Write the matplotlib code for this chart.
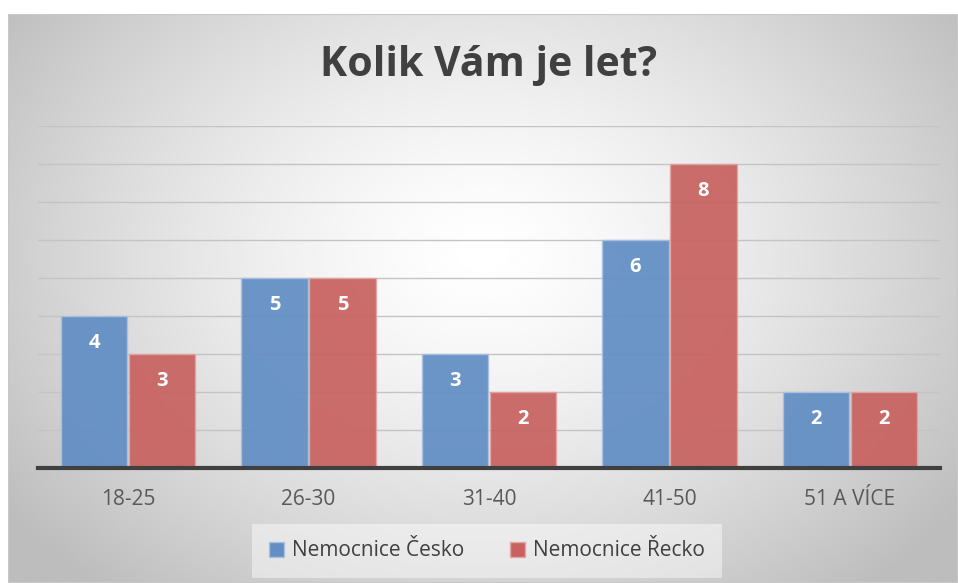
import numpy as np
import matplotlib
matplotlib.use("Agg")
import matplotlib.pyplot as plt
from matplotlib.patches import Patch, Rectangle

plt.rcParams["font.family"] = ["Open Sans", "DejaVu Sans"]

categories = ["18-25", "26-30", "31-40", "41-50", "51 A VÍCE"]
cesko = [4, 5, 3, 6, 2]
recko = [3, 5, 2, 8, 2]
series_names = ["Nemocnice Česko", "Nemocnice Řecko"]
colors = ["#628ec4", "#c86260"]
edges = ["#a9c2e2", "#e3a5a3"]

W, H = 958, 583
fig = plt.figure(figsize=(W / 100, H / 100), dpi=100)

# radial grey gradient panel behind everything
bg = fig.add_axes([8 / W, 0, 1 - 8 / W, 1 - 14 / H], zorder=0)
yy, xx = np.mgrid[0:1:300j, 0:1:500j]
r = np.sqrt(((xx - 0.5) / 0.62) ** 2 + ((yy - 0.42) / 0.78) ** 2)
shade = np.clip(1.0 - 0.26 * r ** 1.4, 0.74, 1.0)
bg.imshow(shade, cmap="gray", vmin=0, vmax=1, extent=[0, 1, 0, 1],
          origin="upper", aspect="auto", interpolation="bicubic")
bg.add_patch(Rectangle((0, 0), 1, 1, fill=False, ec="#c8c8c8", lw=1.5,
                       transform=bg.transAxes))
bg.axis("off")

ax = fig.add_axes([38 / W, 1 - 467.5 / H, 902 / W, 341.5 / H], zorder=1)
ax.patch.set_visible(False)
x = np.arange(len(categories))
w = 0.368
for vals, off, c, ec in [(cesko, -0.188, colors[0], edges[0]),
                         (recko, 0.188, colors[1], edges[1])]:
    bars = ax.bar(x + off, vals, width=w, color=c, edgecolor=ec, lw=1,
                  alpha=0.93, zorder=2)
    for b, v in zip(bars, vals):
        ax.text(b.get_x() + b.get_width() / 2, v - 0.72, str(v), ha="center",
                va="center", color="white", fontsize=14.5, fontweight="bold", zorder=3)

ax.set_xlim(-0.5, len(categories) - 0.5)
ax.set_ylim(0, 9)
ax.set_yticks(range(1, 10))
ax.yaxis.grid(True, color="#c4c4c4", lw=1, zorder=0)
ax.tick_params(axis="y", left=False, labelleft=False)
ax.tick_params(axis="x", bottom=False, labelsize=15, labelcolor="#595959", pad=12)
ax.set_xticks(x)
ax.set_xticklabels(categories)
for s in ["top", "right", "left"]:
    ax.spines[s].set_visible(False)
ax.spines["bottom"].set_color("#404040")
ax.spines["bottom"].set_linewidth(3)
ax.spines["bottom"].set_zorder(4)

fig.text(489 / W, 1 - 66 / H, "Kolik Vám je let?", ha="center", va="center",
         fontsize=29.5, fontweight="bold", color="#404040")

handles = [Patch(facecolor=c, edgecolor=ec) for c, ec in zip(colors, edges)]
leg = fig.legend(handles, series_names, loc="center", bbox_to_anchor=(487 / W, 1 - 551 / H),
                 ncol=2, frameon=True, fontsize=15, handlelength=0.7, handleheight=0.7,
                 handletextpad=0.4, columnspacing=2.2, borderpad=0.8)
leg.get_frame().set_facecolor("white")
leg.get_frame().set_alpha(0.45)
leg.get_frame().set_edgecolor("none")
leg.get_frame().set_boxstyle("square", pad=0)
for t in leg.get_texts():
    t.set_color("#404040")

fig.savefig("out.png", dpi=100, facecolor="white")
